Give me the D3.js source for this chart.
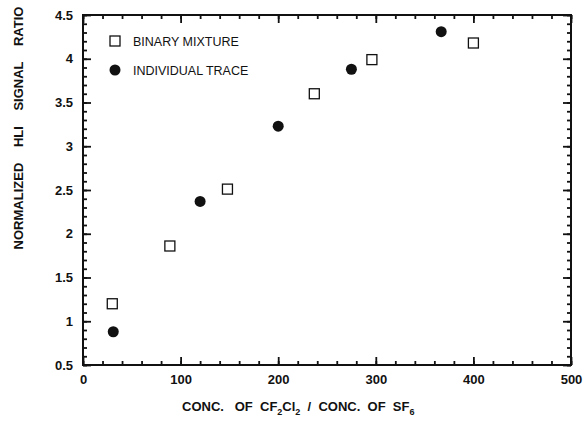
<!DOCTYPE html>
<html>
<head>
<meta charset="utf-8">
<script src="https://cdn.jsdelivr.net/npm/d3@7"></script>
<style>
  body { margin: 0; background: #fff; }
  text { font-family: "Liberation Sans", Arial, sans-serif; font-weight: bold; fill: #111; }
</style>
</head>
<body>
<script>
// data
var binaryX = [30, 89, 148, 237, 296, 400];
var binaryY = [1.20, 1.86, 2.51, 3.60, 3.99, 4.18];
var traceX = [31, 120, 200, 275, 367];
var traceY = [0.88, 2.37, 3.23, 3.88, 4.31];
var xTicks = [0, 100, 200, 300, 400, 500];
var yTicks = [0.5, 1, 1.5, 2, 2.5, 3, 3.5, 4, 4.5];

var svg_width = 584, svg_height = 423;
var plotLeft = 83, plotRight = 571, plotTop = 15, plotBottom = 365;

var svg = d3.select('body').append('svg')
  .attr('width', svg_width)
  .attr('height', svg_height);

var xScale = d3.scaleLinear().domain([0, 500]).range([plotLeft, plotRight]);
var yScale = d3.scaleLinear().domain([0.5, 4.5]).range([plotBottom, plotTop]);

var xMinor = d3.range(0, 501, 20);
var yMinor = d3.range(5, 46).map(d => d / 10);

// frame
svg.append('rect')
  .attr('x', plotLeft).attr('y', plotTop)
  .attr('width', plotRight - plotLeft).attr('height', plotBottom - plotTop)
  .style('fill', 'none').style('stroke', '#111').style('stroke-width', 2);

// axes with inward ticks on all four sides (minor first, then major with labels)
function addAxis(axisFn, scale, shift, vals, size, withLabels) {
  var ax = axisFn(scale).tickValues(vals).tickSizeInner(size).tickSizeOuter(0)
    .tickPadding(withLabels ? 10 : 0)
    .tickFormat(withLabels ? d3.format('~g') : () => '');
  var g = svg.append('g').attr('transform', shift).call(ax);
  g.select('.domain').remove();
  g.selectAll('.tick line').style('stroke', '#111').style('stroke-width', 1.8);
  g.selectAll('.tick text').style('font-size', '13px').attr('fill', '#111');
  return g;
}
var atBottom = 'translate(0,' + plotBottom + ')';
var atTop = 'translate(0,' + plotTop + ')';
var atLeft = 'translate(' + plotLeft + ',0)';
var atRight = 'translate(' + plotRight + ',0)';
addAxis(d3.axisBottom, xScale, atBottom, xMinor, -4, false);
addAxis(d3.axisTop, xScale, atTop, xMinor, -4, false);
addAxis(d3.axisLeft, yScale, atLeft, yMinor, -4, false);
addAxis(d3.axisRight, yScale, atRight, yMinor, -4, false);
addAxis(d3.axisBottom, xScale, atBottom, xTicks, -8, true);
addAxis(d3.axisTop, xScale, atTop, xTicks, -8, false);
addAxis(d3.axisLeft, yScale, atLeft, yTicks, -8, true)
  .selectAll('.tick text').attr('x', -10);
addAxis(d3.axisRight, yScale, atRight, yTicks, -8, false);

// binary mixture squares
svg.selectAll('rect.bin')
  .data(binaryX)
  .enter().append('rect')
  .attr('class', 'bin')
  .attr('x', (d, i) => xScale(d) - 5)
  .attr('y', (d, i) => yScale(binaryY[i]) - 5)
  .attr('width', 10).attr('height', 10)
  .attr('fill', '#fff').attr('stroke', '#111').attr('stroke-width', 1.3);

// individual trace dots
svg.selectAll('circle.trace')
  .data(traceX)
  .enter().append('circle')
  .attr('class', 'trace')
  .attr('cx', d => xScale(d))
  .attr('cy', (d, i) => yScale(traceY[i]))
  .attr('r', 5.5)
  .attr('fill', '#111');

// legend
svg.append('rect')
  .attr('x', 110).attr('y', 36).attr('width', 10).attr('height', 10)
  .attr('fill', '#fff').attr('stroke', '#111').attr('stroke-width', 1.3);
svg.append('text').attr('x', 133).attr('y', 46).style('font-size', '12.5px')
  .style('font-weight', 'normal').text('BINARY MIXTURE');
svg.append('circle').attr('cx', 115).attr('cy', 70).attr('r', 5.5).attr('fill', '#111');
svg.append('text').attr('x', 133).attr('y', 75).style('font-size', '12.5px')
  .style('font-weight', 'normal').text('INDIVIDUAL TRACE');

// x-axis title with subscripts
var xt = svg.append('text')
  .attr('x', 182).attr('y', 411)
  .style('font-size', '13px')
  .attr('xml:space', 'preserve');
xt.append('tspan').text('CONC.   OF  CF');
xt.append('tspan').attr('dy', 4).style('font-size', '9px').text('2');
xt.append('tspan').attr('dy', -4).text('Cl');
xt.append('tspan').attr('dy', 4).style('font-size', '9px').text('2');
xt.append('tspan').attr('dy', -4).text('  /  CONC.  OF  SF');
xt.append('tspan').attr('dy', 4).style('font-size', '9px').text('6');

// rotated y-axis title
svg.append('text')
  .attr('text-anchor', 'middle')
  .attr('transform', 'translate(23,128) rotate(-90)')
  .style('font-size', '13px')
  .style('word-spacing', '12px')
  .text('NORMALIZED HLI SIGNAL RATIO');
</script>
</body>
</html>
